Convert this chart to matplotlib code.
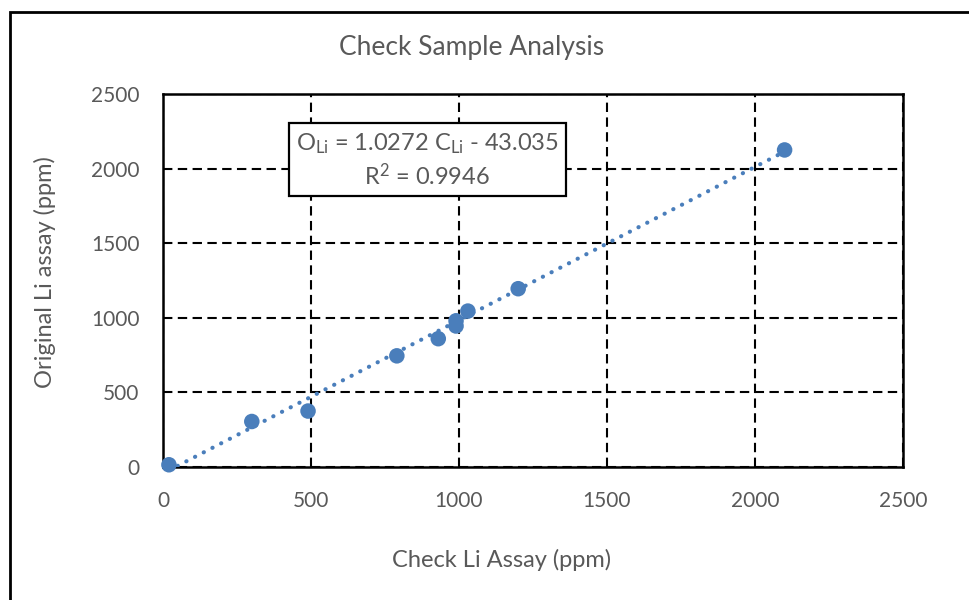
import matplotlib
matplotlib.use('Agg')
import matplotlib.pyplot as plt
from matplotlib.patches import Rectangle

# Check vs original Li assays (ppm)
check_li = [20, 300, 490, 790, 930, 990, 990, 1030, 1200, 2100]
orig_li = [15, 305, 375, 745, 860, 945, 980, 1045, 1195, 2125]

# Trendline as reported on the chart
slope = 1.0272
intercept = -43.035
r_squared = 0.9946

ticks = [0, 500, 1000, 1500, 2000, 2500]

plt.rcParams['font.family'] = ['Lato', 'DejaVu Sans']
plt.rcParams['mathtext.fontset'] = 'custom'
plt.rcParams['mathtext.rm'] = 'Lato'
plt.rcParams['mathtext.it'] = 'Lato:italic'

grey = '#595959'
blue = '#4A7EBB'

fig = plt.figure(figsize=(9.7, 6), dpi=100)
ax = fig.add_axes([163 / 970, 133 / 600, 740 / 970, 373 / 600])

# trendline over the data range
x0, x1 = min(check_li), max(check_li)
ax.plot([x0, x1], [slope * x0 + intercept, slope * x1 + intercept],
        color=blue, lw=3, linestyle=(0, (0.05, 2.3)), dash_capstyle='round',
        zorder=3)
ax.scatter(check_li, orig_li, s=125, color=blue, edgecolors='none', zorder=4,
           clip_on=False)

ax.set_xlim(0, 2500)
ax.set_ylim(0, 2500)
ax.set_xticks(ticks)
ax.set_yticks(ticks)
ax.tick_params(length=0, labelsize=15, labelcolor=grey)
ax.tick_params(axis='x', pad=17)
ax.tick_params(axis='y', pad=17)
ax.grid(True, color='black', linestyle=(0, (4.5, 2.6)), linewidth=1.5)
for s in ax.spines.values():
    s.set_linewidth(1.8)
    s.set_color('black')

fig.text(502 / 970, 1 - 560 / 600, 'Check Li Assay (ppm)', fontsize=17,
         color=grey, ha='center', va='center')
fig.text(45 / 970, 1 - 272 / 600, 'Original Li assay (ppm)', fontsize=17,
         color=grey, ha='center', va='center', rotation=90)

fig.text(472 / 970, 1 - 47 / 600, 'Check Sample Analysis', fontsize=19,
         color=grey, ha='center', va='center')

eq = ('O$_{\\mathrm{Li}}$ = %.4f C$_{\\mathrm{Li}}$ - %.3f\nR$^2$ = %.4f'
      % (slope, -intercept, r_squared))
ax.text(0.357, 0.822, eq, transform=ax.transAxes, fontsize=17, color=grey,
        ha='center', va='center', linespacing=1.3, zorder=5,
        bbox=dict(boxstyle='square,pad=0.3', facecolor='white',
                  edgecolor='black', linewidth=1.6))

# outer chart frame
fig.patches.append(Rectangle((10 / 970, -0.05), 1.2, 1 - 12 / 600 + 0.05,
                             transform=fig.transFigure, fill=False,
                             edgecolor='black', linewidth=2))

fig.savefig('out.png', dpi=100)
